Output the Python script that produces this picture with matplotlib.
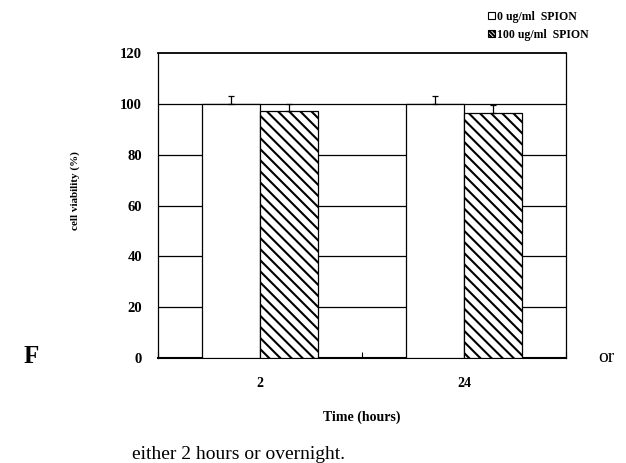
import numpy as np
import matplotlib
matplotlib.use('Agg')
import matplotlib.pyplot as plt
from matplotlib.patches import Rectangle

# data
times = ['2', '24']
control = [100.0, 100.0]
control_err = [3.0, 3.0]
spion = [97.0, 96.5]
spion_err = [3.0, 3.0]
yticks = [0, 20, 40, 60, 80, 100, 120]

plt.rcParams['font.family'] = ['Liberation Serif', 'DejaVu Serif']
plt.rcParams['hatch.linewidth'] = 1.5

fig = plt.figure(figsize=(6.26, 4.63), dpi=100)
ax = fig.add_axes([0.2524, 0.2268, 0.6518, 0.6587])

x = np.arange(len(times)) + 0.5
w = 0.284
ekw = dict(ecolor='black', elinewidth=0.9, capsize=2.2, capthick=0.9)
ax.bar(x - w / 2, control, w, color='white', edgecolor='black', linewidth=0.9,
       yerr=[np.zeros(2), control_err], error_kw=ekw, zorder=3)
ax.bar(x + w / 2, spion, w, color='white', edgecolor='black', linewidth=0.9, hatch='\\\\\\',
       yerr=[np.zeros(2), spion_err], error_kw=ekw, zorder=3)

ax.set_xlim(0, 2)
ax.set_ylim(0, 120)
ax.set_yticks(yticks)
ax.set_yticklabels([str(t) for t in yticks], fontweight='bold', fontsize=10.5)
ax.tick_params(axis='y', length=0, pad=11.5)
ax.set_xticks([0, 1, 2])
ax.set_xticklabels([])
ax.set_xticks(x, minor=True)
ax.set_xticklabels(times, minor=True, fontweight='bold', fontsize=10)
ax.tick_params(axis='x', which='major', direction='in', length=4, width=0.8)
ax.tick_params(axis='x', which='minor', length=0, pad=14)
for yv in yticks[1:-1]:
    ax.axhline(yv, color='black', linewidth=0.9, zorder=1)
for s in ax.spines.values():
    s.set_linewidth(0.9)
ax.spines['bottom'].set_linewidth(1.5)
ax.spines['top'].set_linewidth(1.3)

ax.set_ylabel('cell viability (%)', fontweight='bold', fontsize=8)
ax.yaxis.set_label_coords(-0.19, 0.548)
ax.set_xlabel('Time (hours)', fontweight='bold', fontsize=10)
ax.xaxis.set_label_coords(0.5, -0.172)

h1 = Rectangle((0, 0), 1, 1, facecolor='white', edgecolor='black', linewidth=0.8)
h2 = Rectangle((0, 0), 1, 1, facecolor='white', edgecolor='black', linewidth=0.8,
               hatch='\\\\\\\\\\\\\\\\')
fig.legend([h1, h2], ['0 ug/ml  SPION', '100 ug/ml  SPION'], loc='upper left',
           bbox_to_anchor=(0.763, 1.0), frameon=False, handlelength=0.6, handleheight=0.6,
           handletextpad=0.15, labelspacing=0.5, prop=dict(weight='bold', size=8.5))

# surrounding document text
fig.text(0.038, 0.231, 'F', fontsize=18, fontweight='bold', va='center')
fig.text(0.955, 0.227, 'or', fontsize=14, va='center')
fig.text(0.211, 0.0086, 'either 2 hours or overnight.', fontsize=14, va='baseline')

fig.savefig('out.png', dpi=100)
